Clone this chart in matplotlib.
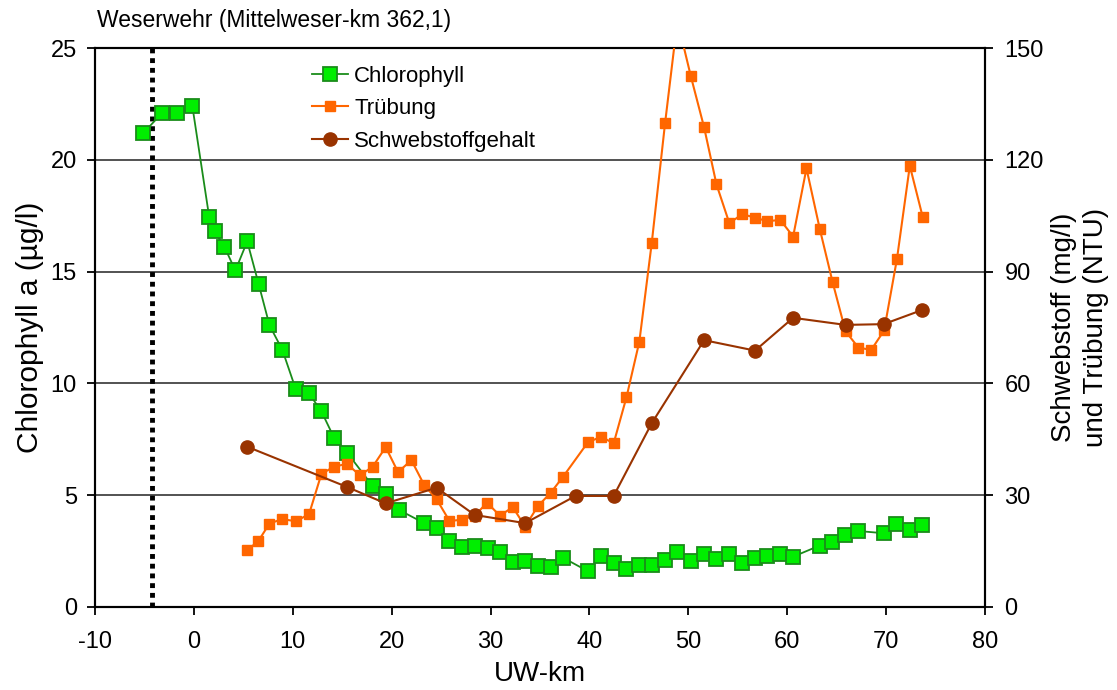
import matplotlib as mpl
import matplotlib.pyplot as plt

mpl.use('Agg')

plt.rcParams['font.family'] = ['Liberation Sans', 'DejaVu Sans']
plt.rcParams['axes.unicode_minus'] = False

# Chlorophyll a (linke Achse)
chl_km = [-5.1, -3.2, -1.7, -0.15, 1.55, 2.1, 3.1, 4.2, 5.4, 6.55, 7.65, 8.95,
          10.3, 11.65, 12.9, 14.2, 15.5, 18.1, 19.4, 20.7, 23.3, 24.55, 25.8,
          27.1, 28.4, 29.7, 30.95, 32.25, 33.5, 34.8, 36.1, 37.35, 39.85, 41.2,
          42.45, 43.75, 45.05, 46.3, 47.6, 48.9, 50.25, 51.6, 52.85, 54.15,
          55.45, 56.75, 58.0, 59.3, 60.6, 63.3, 64.55, 65.85, 67.15, 69.75,
          71.05, 72.4, 73.65]
chl = [21.2, 22.1, 22.1, 22.4, 17.45, 16.8, 16.1, 15.05, 16.35, 14.45, 12.6,
       11.5, 9.75, 9.55, 8.75, 7.55, 6.9, 5.4, 5.05, 4.35, 3.75, 3.55, 2.95,
       2.7, 2.75, 2.65, 2.45, 2.0, 2.05, 1.85, 1.8, 2.2, 1.6, 2.3, 1.95, 1.7,
       1.9, 1.9, 2.1, 2.45, 2.05, 2.35, 2.15, 2.35, 1.95, 2.2, 2.3, 2.35, 2.25,
       2.75, 2.9, 3.2, 3.4, 3.3, 3.7, 3.45, 3.65]

# Trübung (rechte Achse)
trueb_km = [5.4, 6.5, 7.65, 8.95, 10.3, 11.65, 12.9, 14.2, 15.5, 16.8, 18.1,
            19.4, 20.65, 22.0, 23.3, 24.55, 25.85, 27.1, 28.4, 29.65, 30.95,
            32.25, 33.5, 34.8, 36.1, 37.35, 39.85, 41.2, 42.45, 43.75, 45.05,
            46.3, 47.65, 48.9, 50.25, 51.6, 52.85, 54.15, 55.45, 56.75, 58.0,
            59.3, 60.6, 61.95, 63.3, 64.6, 65.9, 67.2, 68.5, 69.8, 71.1, 72.4,
            73.7]
trueb = [15.3, 17.6, 22.4, 23.6, 23.0, 24.9, 35.7, 37.7, 38.4, 35.3, 37.7,
         42.9, 36.2, 39.4, 32.7, 28.9, 23.1, 23.4, 24.5, 28.0, 24.5, 26.8,
         21.6, 27.1, 30.7, 35.0, 44.2, 45.7, 43.9, 56.3, 71.2, 97.6, 129.8,
         157.4, 142.5, 128.7, 113.4, 103.0, 105.4, 104.5, 103.5, 103.9, 99.4,
         117.7, 101.4, 87.1, 74.0, 69.6, 69.0, 74.2, 93.4, 118.4, 104.7]

# Schwebstoffgehalt (rechte Achse)
schweb_km = [5.4, 15.5, 19.4, 24.55, 28.4, 33.5, 38.6, 42.45, 46.3, 51.6,
             56.75, 60.6, 65.9, 69.75, 73.65]
schweb = [43.0, 32.2, 27.8, 32.0, 24.7, 22.5, 29.8, 29.8, 49.3, 71.6, 68.8,
          77.6, 75.7, 75.9, 79.7]

wehr_km = -4.2

fig = plt.figure(figsize=(11.17, 6.9), dpi=100)
ax = fig.add_axes([0.085, 0.1203, 0.7968, 0.8101])
ax2 = ax.twinx()

ax.set_xlim(-10, 80)
ax.set_ylim(0, 25)
ax2.set_ylim(0, 150)
ax.set_xticks(range(-10, 81, 10))
ax.set_yticks(range(0, 26, 5))
ax2.set_yticks(range(0, 151, 30))

for y in [5, 10, 15, 20]:
    ax.axhline(y, color='#444444', lw=1.3, zorder=1)

ax.axvline(wehr_km, color='black', lw=3.5, ls=(0, (1, 1)), zorder=2)

l1, = ax.plot(chl_km, chl, color='#1a8c1a', lw=1.3, marker='s', ms=9.5,
              mfc='#00ee00', mec='#1a8c1a', mew=1.3, zorder=3,
              label='Chlorophyll')
l2, = ax2.plot(trueb_km, trueb, color='#ff6600', lw=1.5, marker='s', ms=7,
               mfc='#ff6600', mec='#ff6600', zorder=3, label='Trübung')
l3, = ax2.plot(schweb_km, schweb, color='#993300', lw=1.5, marker='o', ms=9.5,
               mfc='#993300', mec='#993300', zorder=4,
               label='Schwebstoffgehalt')

for a in (ax, ax2):
    for s in a.spines.values():
        s.set_linewidth(1.5)
    a.tick_params(direction='out', length=6, width=1.3, labelsize=17)
ax.tick_params(axis='x', pad=11)
ax.tick_params(axis='y', pad=7)
ax2.tick_params(axis='y', pad=8)

ax.set_xlabel('UW-km', fontsize=20, labelpad=6)
ax.set_ylabel('Chlorophyll a (µg/l)', fontsize=21.5, labelpad=5)
ax2.set_ylabel('Schwebstoff (mg/l)\nund Trübung (NTU)', fontsize=20,
               labelpad=5, linespacing=1.3)

fig.text(0.087, 0.971, 'Weserwehr (Mittelweser-km 362,1)', fontsize=16.5,
         va='center', ha='left')

ax2.legend(handles=[l1, l2, l3], loc='upper left', frameon=False,
           bbox_to_anchor=(0.2793, 0.905), bbox_transform=fig.transFigure,
           fontsize=16, handlelength=1.6, handletextpad=0.3,
           labelspacing=0.52, borderpad=0, borderaxespad=0)

plt.savefig('out.png', dpi=100)
